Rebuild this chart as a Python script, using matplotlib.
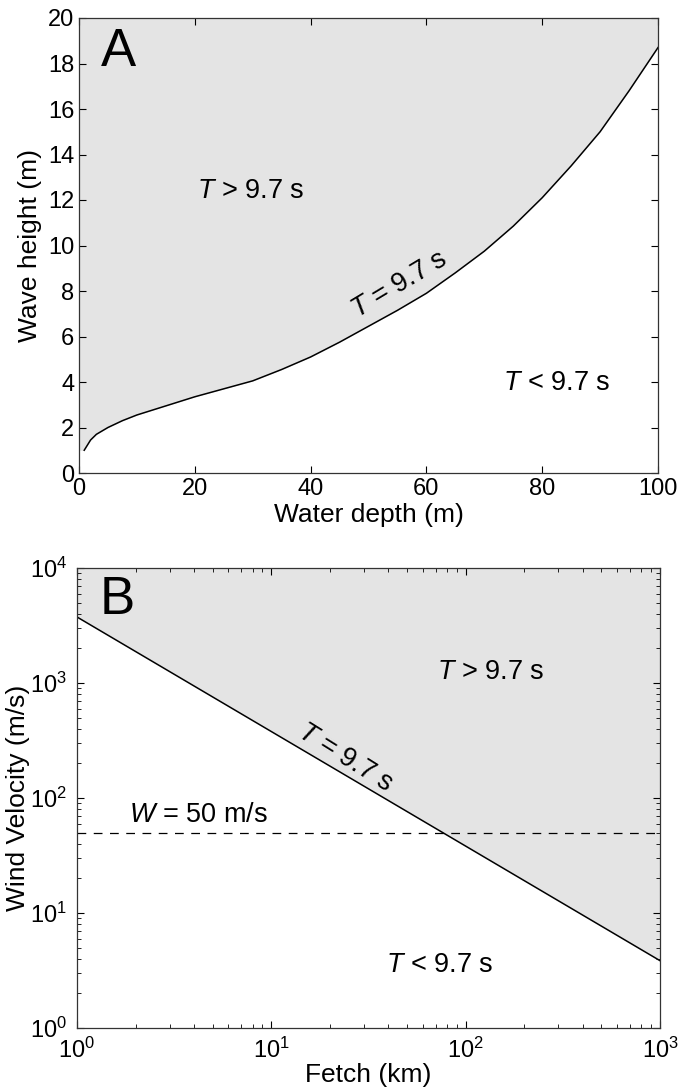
import matplotlib
matplotlib.use('Agg')
import matplotlib.pyplot as plt
import numpy as np

plt.rcParams['font.family'] = ['Liberation Sans', 'DejaVu Sans']
plt.rcParams['mathtext.fontset'] = 'custom'
plt.rcParams['mathtext.it'] = 'Liberation Sans:italic'
plt.rcParams['mathtext.rm'] = 'Liberation Sans'

# --- Painel A: limite T = 9.7 s (profundidade x altura de onda) ---
profundidade = [0.9, 2, 3, 5, 7.5, 10, 15, 20, 25, 30, 35, 40, 45, 50,
                55, 60, 65, 70, 75, 80, 85, 90, 95, 100]
altura = [1.0, 1.45, 1.7, 2.0, 2.3, 2.55, 2.95, 3.35, 3.7, 4.05, 4.55, 5.1,
          5.75, 6.45, 7.15, 7.9, 8.8, 9.75, 10.85, 12.1, 13.5, 15.0, 16.8, 18.7]

# --- Painel B: limite T = 9.7 s (fetch x velocidade do vento) ---
fetch = [1, 1000]
velocidade = [3750, 3.85]
vento_ref = 50

cinza = '#e4e4e4'
fs_txt = 19.5

fig = plt.figure(figsize=(6.78, 10.88), dpi=100)

axA = fig.add_axes([79/678, 1 - 473/1088, 579/678, 455/1088])
# area sombreada vai ate o eixo esquerdo
x_fill = [0] + profundidade
y_fill = [altura[0]] + altura
axA.fill_between(x_fill, y_fill, 20, color=cinza, linewidth=0)
axA.plot(profundidade, altura, color='black', linewidth=1.1)
axA.set_xlim(0, 100)
axA.set_ylim(0, 20)
axA.set_xticks(range(0, 101, 20))
axA.set_yticks(range(0, 21, 2))
axA.set_xlabel('Water depth (m)', fontsize=19, labelpad=2)
axA.set_ylabel('Wave height (m)', fontsize=19, labelpad=4)
axA.text(3.8, 18.5, 'A', fontsize=38, va='center', ha='left')
axA.text(20.3, 12.4, r'$T$ > 9.7 s', fontsize=fs_txt, va='center', ha='left')
axA.text(73.2, 3.95, r'$T$ < 9.7 s', fontsize=fs_txt, va='center', ha='left')
axA.text(55.4, 8.3, r'$T$ = 9.7 s', fontsize=fs_txt, va='center', ha='center',
         rotation=31, rotation_mode='anchor')

axB = fig.add_axes([77/678, 1 - 1028/1088, 583/678, 460/1088])
axB.set_xscale('log')
axB.set_yscale('log')
axB.fill_between(fetch, velocidade, 1e4, color=cinza, linewidth=0)
axB.plot(fetch, velocidade, color='black', linewidth=1.1)
axB.axhline(vento_ref, color='black', linewidth=0.9, linestyle=(0, (7, 6)))
axB.set_xlim(1, 1000)
axB.set_ylim(1, 1e4)
axB.set_xlabel('Fetch (km)', fontsize=19, labelpad=0)
axB.set_ylabel('Wind Velocity (m/s)', fontsize=19, labelpad=0)
axB.text(1.3, 5300, 'B', fontsize=38, va='center', ha='left')
axB.text(71.6, 1250, r'$T$ > 9.7 s', fontsize=fs_txt, va='center', ha='left')
axB.text(39, 3.5, r'$T$ < 9.7 s', fontsize=fs_txt, va='center', ha='left')
axB.text(9.65, 71, r'$W$ = 50 m/s', fontsize=fs_txt, va='center', ha='right')
axB.text(24, 225, r'$T$ = 9.7 s', fontsize=fs_txt, va='center', ha='center',
         rotation=-32, rotation_mode='anchor')

for ax in (axA, axB):
    ax.tick_params(which='both', direction='in', top=True, right=True, labelsize=17)
    ax.tick_params(which='major', length=5)
    ax.tick_params(which='minor', length=3)
    for s in ax.spines.values():
        s.set_linewidth(0.9)
        s.set_color('#333333')

# afasta os rotulos 10^0 para nao se sobreporem no canto
axB.tick_params(axis='x', which='major', pad=7)
axB.tick_params(axis='y', which='major', pad=7)

plt.savefig('out.png', dpi=100)
